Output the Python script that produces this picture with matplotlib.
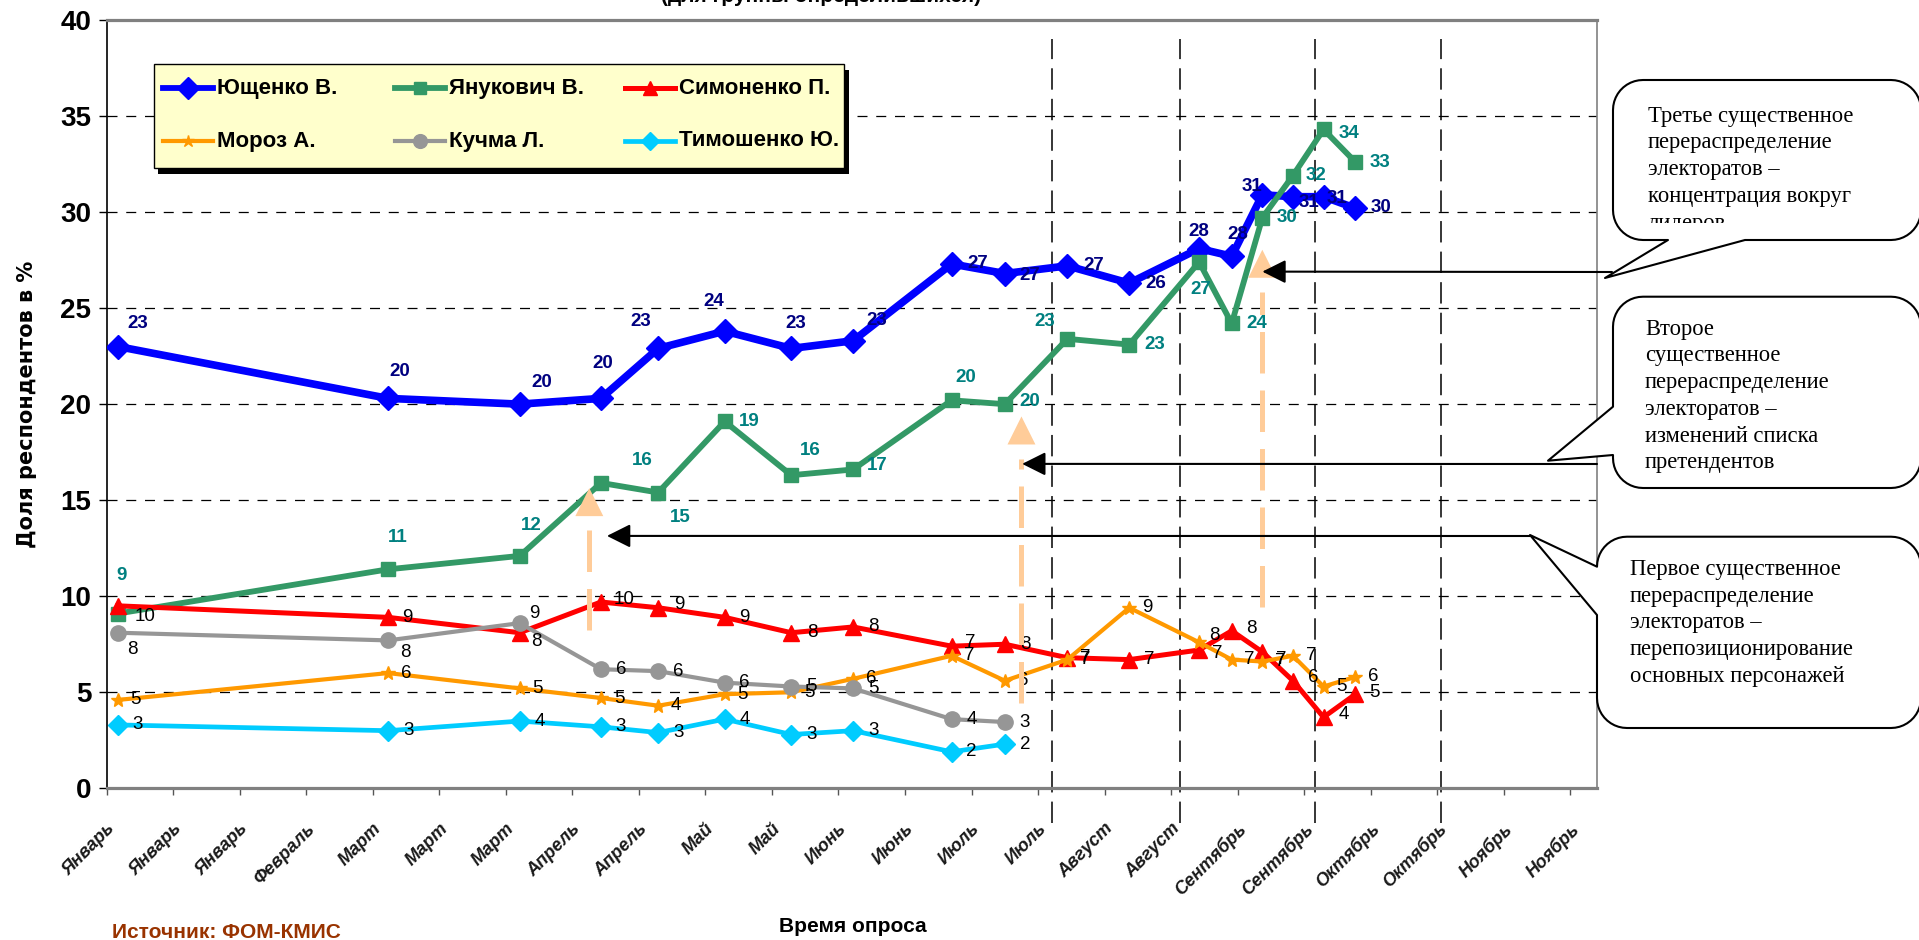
import numpy as np
import matplotlib.pyplot as plt
from matplotlib.patches import Polygon, Rectangle
from matplotlib.lines import Line2D
from matplotlib.transforms import Bbox, TransformedBbox

plt.rcParams['font.family'] = ['Liberation Sans', 'DejaVu Sans']

# --- data ---
months = ["Январь", "Январь", "Январь", "Февраль", "Март", "Март", "Март",
          "Апрель", "Апрель", "Май", "Май", "Июнь", "Июнь", "Июль", "Июль",
          "Август", "Август", "Сентябрь", "Сентябрь", "Октябрь", "Октябрь",
          "Ноябрь", "Ноябрь"]

# poll dates on the time axis (1 unit = one axis tick, about two weeks)
poll_pos = [0.17, 4.23, 6.21, 7.43, 8.29, 9.29, 10.29, 11.22, 12.70, 13.50,
            14.44, 15.37, 16.42, 16.91, 17.37, 17.83, 18.29, 18.77]

yushchenko = [23.0, 20.3, 20.0, 20.3, 22.9, 23.8, 22.9, 23.3, 27.3, 26.8,
              27.2, 26.3, 28.1, 27.7, 30.9, 30.8, 30.8, 30.2]
yanukovych = [9.1, 11.4, 12.1, 15.9, 15.4, 19.1, 16.3, 16.6, 20.2, 20.0,
              23.4, 23.1, 27.4, 24.2, 29.7, 31.9, 34.3, 32.6]
symonenko = [9.5, 8.9, 8.1, 9.7, 9.4, 8.9, 8.1, 8.4, 7.4, 7.5,
             6.8, 6.7, 7.2, 8.2, 7.1, 5.6, 3.7, 4.9]
moroz = [4.6, 6.0, 5.2, 4.7, 4.3, 4.9, 5.0, 5.7, 6.9, 5.6,
         6.7, 9.4, 7.6, 6.7, 6.6, 6.9, 5.3, 5.8]
kuchma = [8.1, 7.7, 8.6, 6.2, 6.1, 5.5, 5.3, 5.2, 3.6, 3.45]
tymoshenko = [3.3, 3.0, 3.5, 3.2, 2.9, 3.6, 2.8, 3.0, 1.9, 2.3]

names = ["Ющенко В.", "Янукович В.", "Симоненко П.", "Мороз А.", "Кучма Л.", "Тимошенко Ю."]

# period separators (dashed verticals)
separators = [14.21, 16.14, 18.16, 20.05]

callouts = [
    ["Третье существенное", "перераспределение", "электоратов –",
     "концентрация вокруг", "лидеров"],
    ["Второе", "существенное", "перераспределение", "электоратов –",
     "изменений списка", "претендентов"],
    ["Первое существенное", "перераспределение", "электоратов –",
     "перепозиционирование", "основных персонажей"],
]

# --- styles ---
W, H = 1919, 940

def fx(x):
    return x / W

def fy(y):
    return 1 - y / H

series = [
    (yushchenko, dict(color='#0000FF', lw=5.5, marker='D', ms=12), '#000080', 'bold'),
    (yanukovych, dict(color='#339966', lw=4.2, marker='s', ms=10), '#008080', 'bold'),
    (symonenko, dict(color='#FF0000', lw=3.6, marker='^', ms=11), 'black', 'normal'),
    (moroz, dict(color='#FF9900', lw=3.0, marker='*', ms=10), 'black', 'normal'),
    (kuchma, dict(color='#969696', lw=3.0, marker='o', ms=11), 'black', 'normal'),
    (tymoshenko, dict(color='#00CCFF', lw=3.4, marker='D', ms=10), 'black', 'normal'),
]

# label offsets from the point, pixels (x right, y down)
R = (20, 0)
label_offsets = [
    [(20, -23), (12, -27), (22, -22), (2, -35), (-17, -27), (-11, -30), (4, -25),
     (24, -20), (26, 0), (25, 2), (26, 0), (26, 0), (0, -17), (6, -22),
     (-10, -8), (16, 6), (13, 2), (26, -1)],
    [(4, -38), (10, -32), (11, -30), (41, -22), (22, 25), (25, 0), (19, -25),
     (24, -4), (14, -23), (25, -3), (-23, -17), (25, 0), (2, 27), (25, 0),
     (25, 0), (23, 0), (25, 4), (25, 0)],
    [(27, 11), (19, 0), (17, 9), (23, -2), (21, -3), R, (21, 0), R, (19, -4),
     (21, 0), (18, 0), R, (18, 3), (20, -2), (19, 8), (20, -3), (20, -3), (19, -2)],
    [(18, 0)] * 12 + [(15, -7)] + [(18, 0)] * 5,
    [(14, 17), (17, 12), (15, -10)] + [R] * 7,
    [R] * 10,
]

fig = plt.figure(figsize=(W / 100, H / 100), dpi=100)
ax = fig.add_axes([fx(106.6), fy(788.3), (1597 - 106.6) / W, (788.3 - 20) / H])

ax.set_xlim(0, 22.4)
ax.set_ylim(0, 40)
ax.set_yticks(range(0, 41, 5))
ax.set_xticks(range(len(months)))
ax.set_xticklabels(months, rotation=45, ha='right', va='top', rotation_mode='anchor',
                   fontsize=13, fontweight='bold', fontstyle='italic', color='#1a1a1a')
ax.tick_params(axis='x', direction='out', length=5, width=1, color='#555555', pad=18)
ax.tick_params(axis='y', direction='out', length=6, width=1, pad=5, labelsize=20)
for lab in ax.get_yticklabels():
    lab.set_fontweight('bold')

for s in ['top', 'bottom']:
    ax.spines[s].set_color('#808080')
    ax.spines[s].set_linewidth(2.3)
ax.spines['right'].set_color('#808080')
ax.spines['right'].set_linewidth(1.2)
ax.spines['left'].set_color('black')
ax.spines['left'].set_linewidth(1.2)

for y in range(5, 40, 5):
    ax.axhline(y, color='black', lw=0.9, dashes=(8, 7), zorder=1)
for xs in separators:
    ax.plot([xs, xs], [-1.8, 39.0], color='black', lw=1.1, dashes=(14, 6),
            clip_on=False, zorder=1)

# series and data labels
for (vals, st, lab_col, lab_w), offs in zip(series, label_offsets):
    xs = poll_pos[:len(vals)]
    ax.plot(xs, vals, color=st['color'], lw=st['lw'], marker=st['marker'],
            ms=st['ms'], mfc=st['color'], mec=st['color'], zorder=3)
    for x, v, (dx, dy) in zip(xs, vals, offs):
        ax.annotate(f"{v:.0f}", (x, v), xytext=(dx, -dy), textcoords='offset pixels',
                    ha='center', va='center', fontsize=13.5, color=lab_col,
                    fontweight=lab_w, zorder=4)

# peach dashed arrows (moments of change)
for x, y0, y1 in [(7.255, 8.23, 15.63), (13.75, 4.43, 19.36), (17.37, 9.46, 28.04)]:
    ax.plot([x, x], [y0, y1 - 2.2], color='#FFCC99', lw=3.6, dashes=(8.3, 3.4),
            solid_capstyle='butt', zorder=5)
    ax.add_patch(Polygon([(x - 0.21, y1 - 1.46), (x + 0.21, y1 - 1.46), (x, y1)],
                         closed=True, facecolor='#FFCC99', edgecolor='none', zorder=5))

# black arrows from the callouts
for tip, start in [((7.52, 13.14), (1530, 536)), ((13.76, 16.89), (1597, 464)),
                   ((17.37, 26.9), (1612, 272))]:
    ax.annotate('', xy=tip, xycoords='data', xytext=(start[0], H - start[1]),
                textcoords='figure pixels', annotation_clip=False,
                arrowprops=dict(arrowstyle='-|>', color='black', lw=1.5,
                                shrinkA=0, shrinkB=0, mutation_scale=36), zorder=6)

ax.set_ylabel("Доля респондентов в %", fontsize=15, fontweight='bold', family='DejaVu Sans')
ax.yaxis.set_label_coords(-0.047, 0.50)
ax.set_xlabel("Время опроса", fontsize=15, fontweight='bold')
ax.xaxis.set_label_coords(0.5008, -0.1675)

# legend (drawn by hand to match the box layout)
fig.add_artist(Rectangle((fx(158), fy(174)), (849 - 158) / W, (174 - 70) / H,
                         transform=fig.transFigure, facecolor='black', edgecolor='none',
                         zorder=7))
fig.add_artist(Rectangle((fx(154), fy(167.7)), (844 - 154) / W, (167.7 - 64.3) / H,
                         transform=fig.transFigure, facecolor='#FFFFCC', edgecolor='black',
                         lw=1, zorder=8))
col_x = [163, 395, 625]
row_y = [88.3, 141]
for i, (name, (vals, st, _, _)) in enumerate(zip(names, series)):
    x0 = col_x[i % 3]
    y0 = row_y[i // 3]
    fig.add_artist(Line2D([fx(x0), fx(x0 + 25), fx(x0 + 50)], [fy(y0)] * 3,
                          transform=fig.transFigure, color=st['color'], lw=min(st['lw'], 4.2),
                          marker=st['marker'], ms=st['ms'] * 0.9, markevery=[1],
                          mfc=st['color'], mec=st['color'], zorder=9))
    fig.text(fx(x0 + 54), fy(y0), name, ha='left', va='center', fontsize=16,
             fontweight='bold', color='black', zorder=9)

# speech bubbles
def bubble(left, top, right, bottom, r, tail_bottom=(), tail_left=()):
    pts = []

    def arc(cx, cy, a0, a1):
        for t in np.radians(np.linspace(a0, a1, 12)):
            pts.append((cx + r * np.cos(t), cy + r * np.sin(t)))

    arc(right - r, top + r, -90, 0)
    arc(right - r, bottom - r, 0, 90)
    pts.extend(tail_bottom)
    arc(left + r, bottom - r, 90, 180)
    pts.extend(tail_left)
    arc(left + r, top + r, 180, 270)
    return [(fx(x), fy(y)) for x, y in pts]

boxes = [
    bubble(1613, 80, 1921, 240, 30, tail_bottom=[(1745, 240), (1605, 278), (1668, 240)]),
    bubble(1613, 296.7, 1921, 488, 30, tail_left=[(1613, 455), (1548, 460.7), (1613, 406.7)]),
    bubble(1597, 536.7, 1921, 728, 30, tail_left=[(1597, 615), (1530, 535), (1597, 566.7)]),
]
for pts in boxes:
    fig.add_artist(Polygon(pts, closed=True, transform=fig.transFigure, facecolor='white',
                           edgecolor='black', lw=1.5, joinstyle='round', zorder=8))

text_place = [(1648, 121.7), (1645, 334.8), (1630, 575)]
clip = TransformedBbox(Bbox([[fx(1600), fy(223)], [fx(1919), fy(80)]]), fig.transFigure)
for k, (lines, (tx, ty)) in enumerate(zip(callouts, text_place)):
    for j, line in enumerate(lines):
        t = fig.text(fx(tx), fy(ty + j * 26.7), line, ha='left', va='baseline',
                     fontsize=16.3, family='Liberation Serif', color='black', zorder=9)
        if k == 0:
            t.set_clip_box(clip)
            t.set_clip_on(True)

# partly cut title and source
fig.text(fx(821), fy(2), "(для группы определившихся)", ha='center', va='baseline',
         fontsize=15, fontweight='bold')
fig.text(fx(111.6), fy(932), "Источник: ФОМ-КМИС", ha='left', va='center',
         fontsize=15, fontweight='bold', color='#993300')

fig.savefig('out.png', dpi=100)
